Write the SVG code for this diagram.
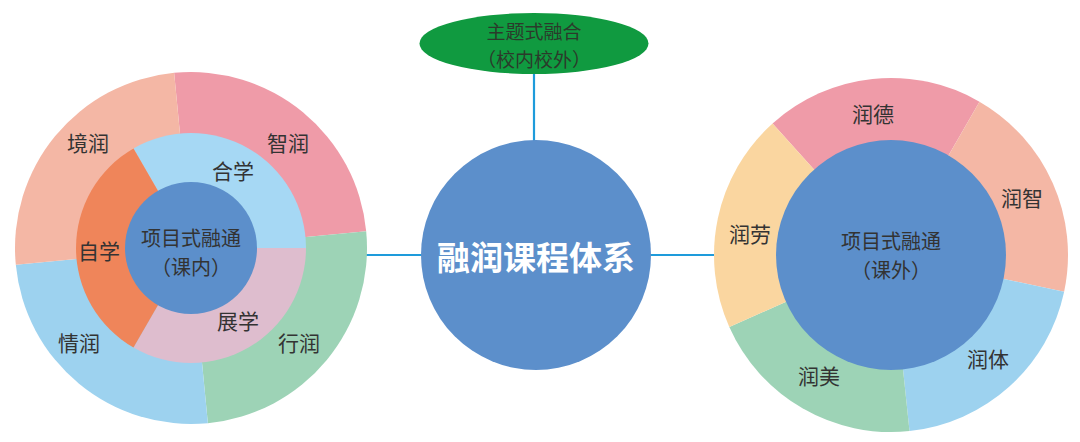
<svg xmlns="http://www.w3.org/2000/svg" width="1080" height="442" viewBox="0 0 1080 442">
<style>
text{font-family:"Noto Sans CJK SC","Noto Sans",sans-serif;text-anchor:middle;dominant-baseline:central}
.lbl{font-size:21px;fill:#333}
.in{font-size:20px;fill:#333}
.title{font-size:33px;fill:#fff;font-weight:bold}
.top{font-size:19px;fill:#2b3a2b}
.conn{stroke:#1E9BDB;stroke-width:2.2;fill:none}
</style>
<rect width="1080" height="442" fill="#fff"/>
<g id="connectors">
<line class="conn" x1="534" y1="73" x2="534" y2="141"/>
<line class="conn" x1="365" y1="255" x2="422" y2="255"/>
<line class="conn" x1="650" y1="255" x2="716" y2="255"/>
</g>
<g id="left-wheel">
<path d="M191,248 L174.13,72.81 A176,176 0 0 1 366.19,231.13 Z" fill="#EF9BA8"/>
<path d="M191,248 L366.19,231.13 A176,176 0 0 1 207.87,423.19 Z" fill="#9DD3B6"/>
<path d="M191,248 L207.87,423.19 A176,176 0 0 1 15.81,264.87 Z" fill="#9DD2EF"/>
<path d="M191,248 L15.81,264.87 A176,176 0 0 1 174.13,72.81 Z" fill="#F4B7A5"/>
<path d="M191,248 L133.5,148.41 A115,115 0 0 1 306,248 Z" fill="#A6D8F4"/>
<path d="M191,248 L306,248 A115,115 0 0 1 133.5,347.59 Z" fill="#DEBDCE"/>
<path d="M191,248 L133.5,347.59 A115,115 0 0 1 133.5,148.41 Z" fill="#EF855A"/>
<circle cx="191" cy="248" r="66" fill="#5C8FCB"/>
<text class="lbl" x="88" y="142">境润</text>
<text class="lbl" x="288" y="142">智润</text>
<text class="lbl" x="299" y="342">行润</text>
<text class="lbl" x="79" y="342">情润</text>
<text class="lbl" x="233" y="170">合学</text>
<text class="lbl" x="99" y="250">自学</text>
<text class="lbl" x="238" y="320">展学</text>
<text class="in" x="191" y="237">项目式融通</text>
<text class="in" x="191" y="266">（课内）</text>
</g>
<g id="center">
<circle cx="536" cy="255" r="115" fill="#5C8FCB"/>
<text class="title" x="536" y="256">融润课程体系</text>
</g>
<g id="top-node">
<ellipse cx="534" cy="43.5" rx="114.5" ry="30.5" fill="#109A40"/>
<text class="top" x="534" y="30">主题式融合</text>
<text class="top" x="534" y="58">（校内校外）</text>
</g>
<g id="right-wheel">
<path d="M891,255 L772.57,123.47 A177,177 0 0 1 979.5,101.71 Z" fill="#EF9BA8"/>
<path d="M891,255 L979.5,101.71 A177,177 0 0 1 1064.13,291.8 Z" fill="#F4B7A5"/>
<path d="M891,255 L1064.13,291.8 A177,177 0 0 1 909.5,431.03 Z" fill="#9DD2EF"/>
<path d="M891,255 L909.5,431.03 A177,177 0 0 1 729.31,326.99 Z" fill="#9DD3B6"/>
<path d="M891,255 L729.31,326.99 A177,177 0 0 1 772.57,123.47 Z" fill="#FAD6A0"/>
<circle cx="891" cy="255" r="115" fill="#5C8FCB"/>
<text class="lbl" x="873" y="113">润德</text>
<text class="lbl" x="1022" y="197">润智</text>
<text class="lbl" x="988" y="358">润体</text>
<text class="lbl" x="819" y="375">润美</text>
<text class="lbl" x="750" y="233">润劳</text>
<text class="in" x="891" y="240">项目式融通</text>
<text class="in" x="891" y="269">（课外）</text>
</g>
</svg>
